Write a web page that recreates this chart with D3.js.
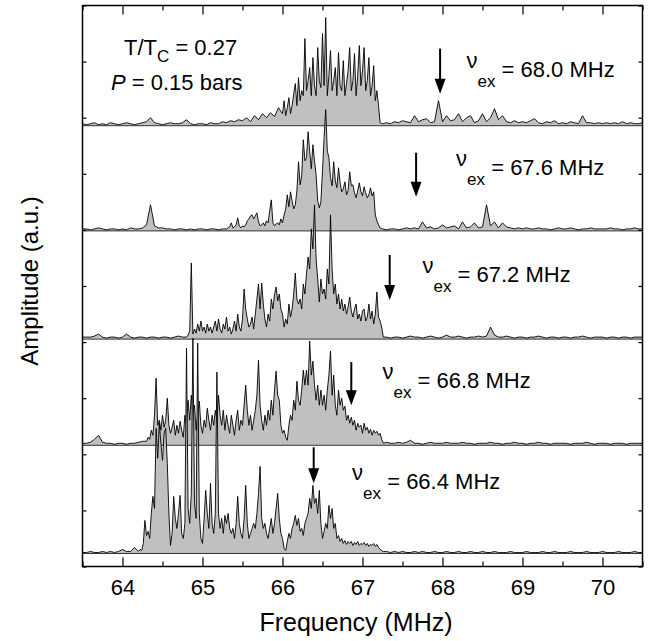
<!DOCTYPE html>
<html lang="en">
<head>
  <meta charset="UTF-8">
  <title>NMR spectra at several excitation frequencies</title>
  <script src="https://d3js.org/d3.v7.min.js"></script>
  <style>
    body {
      margin: 0;
      padding: 0;
      background: #fff;
      font-family: "Liberation Sans", Arial, sans-serif;
    }
    svg text {
      font-family: "Liberation Sans", Arial, sans-serif;
      fill: #000;
    }
  </style>
</head>
<body>
  <div id="chart"></div>

  <script>
    // ---- data ----
    const freqMin = 63.5, freqMax = 70.5;
    const xTicks = [64, 65, 66, 67, 68, 69, 70];
    const exFreqs = [68.0, 67.6, 67.2, 66.8, 66.4];          // excitation frequency labels
    const arrowFreqs = [67.97, 67.67, 67.34, 66.86, 66.39];  // where the arrows sit
    const offsets = [440, 335, 227, 121, 13];                // baseline of each trace (a.u.)
    const bandStarts = [66.00, 65.30, 64.80, 64.30, 64.20];  // start of the dense part
    const noiseStep = 0.05, bandStep = 0.02;

    // baseline noise, 63.5 -> 70.5 every 0.05 MHz (zeros lie under the dense band)
    const noise1 = [
      2,1,2,3,1,2,1,3,2,1, 2,3,2,1,2,3,4,8,3,2, 1,2,3,2,2,3,6,2,1,2,
      2,1,3,2,2,4,3,5,4,6, 5,8,4,10,6,12,8,13,9,18, 0,0,0,0,0,0,0,0,0,0,
      0,0,0,0,0,0,0,0,0,0, 0,0,0,0,0,2,3,2,4,3, 5,4,3,10,4,6,7,3,4,25,
      4,10,5,6,12,4,8,10,3,5, 12,4,8,17,6,10,4,3,5,3, 4,3,5,7,3,2,4,3,5,2,
      3,2,4,3,2,10,3,3,2,3, 2,3,2,3,2,4,2,3,2,2, 3
    ];
    const noise2 = [
      2,2,1,2,3,2,1,2,2,1, 2,1,3,2,2,3,6,26,5,3, 3,2,2,1,2,2,1,2,1,2,
      2,1,2,2,1,2,0,0,0,0, 0,0,0,0,0,0,0,0,0,0, 0,0,0,0,0,0,0,0,0,0,
      0,0,0,0,0,0,0,0,0,0, 0,0,0,0,0,2,1,2,2,1, 2,3,2,3,2,9,3,4,2,3,
      6,3,4,5,2,9,3,4,8,3, 4,26,5,9,3,8,4,3,2,3, 2,3,2,2,3,2,2,1,2,3,
      2,2,3,2,1,2,2,3,2,2, 2,2,3,2,2,1,2,2,3,2, 2
    ];
    const noise3 = [
      2,2,2,3,5,2,1,2,2,1, 2,5,2,1,2,2,1,2,2,1, 2,2,1,2,3,2,0,0,0,0,
      0,0,0,0,0,0,0,0,0,0, 0,0,0,0,0,0,0,0,0,0, 0,0,0,0,0,0,0,0,0,0,
      0,0,0,0,0,0,0,0,0,0, 0,0,0,0,0,0,2,1,2,2, 1,2,3,2,2,1,2,3,2,1,
      2,4,2,2,3,2,1,2,2,3, 2,3,12,4,2,2,3,2,1,2, 2,1,2,2,3,2,1,2,2,1,
      2,2,1,2,2,3,2,1,2,2, 2,1,2,2,1,2,2,1,2,2, 2
    ];
    const noise4 = [
      2,2,3,6,10,3,2,2,1,2, 2,1,2,2,3,4,0,0,0,0, 0,0,0,0,0,0,0,0,0,0,
      0,0,0,0,0,0,0,0,0,0, 0,0,0,0,0,0,0,0,0,0, 0,0,0,0,0,0,0,0,0,0,
      0,0,0,0,0,0,0,0,0,0, 0,0,0,0,0,0,3,2,2,3, 2,3,5,2,2,1,2,3,2,2,
      2,3,2,2,2,3,2,2,1,2, 2,2,3,2,2,1,2,2,3,2, 2,1,2,2,3,2,2,1,2,2,
      2,2,1,2,2,2,3,2,1,2, 2,2,1,2,2,2,1,2,2,2, 2
    ];
    const noise5 = [
      1,1,2,1,1,2,1,2,1,2, 4,2,2,6,0,0,0,0,0,0, 0,0,0,0,0,0,0,0,0,0,
      0,0,0,0,0,0,0,0,0,0, 0,0,0,0,0,0,0,0,0,0, 0,0,0,0,0,0,0,0,0,0,
      0,0,0,0,0,0,0,0,0,0, 0,0,0,0,0,0,2,1,2,1, 2,1,1,2,1,2,1,1,2,1,
      1,2,1,1,2,1,1,2,1,1, 2,1,1,2,1,1,1,2,1,1, 1,2,1,1,1,2,1,1,2,1,
      1,1,2,1,1,1,2,1,1,1, 2,1,1,1,2,1,1,1,2,1, 1
    ];

    // dense part of each trace, every 0.02 MHz from bandStarts[k]
    const band1 = [
      12,25,10,18,28,12,20,32,42,20,   // 66.00
      48,25,35,30,87,35,45,58,30,68,   // 66.20
      40,30,78,45,38,92,40,108,30,50,  // 66.40
      75,35,45,58,30,73,40,35,65,30,   // 66.60
      42,55,78,35,45,72,30,50,80,40,   // 66.80
      55,78,35,45,68,30,40,60,25,35,   // 67.00
      20,3                             // 67.20
    ];
    const band2 = [
      2,3,4,8,3,4,6,13,5,3,            // 65.30
      5,4,6,10,12,15,16,12,15,18,      // 65.50
      9,5,6,8,5,10,8,20,31,8,          // 65.70
      5,7,8,6,12,8,16,22,36,24,        // 65.90
      39,30,22,26,40,69,46,55,91,70,   // 66.10
      73,99,79,62,86,70,56,30,23,29,   // 66.30
      60,93,121,80,73,53,45,69,50,43,  // 66.50
      63,48,39,42,49,36,40,59,45,46,   // 66.70
      38,33,40,48,39,35,44,38,33,36,   // 66.90
      43,35,39,16,10,6,3               // 67.10
    ];
    const band3 = [
      2,4,8,76,5,10,6,15,8,18,         // 64.80
      8,12,6,15,8,12,6,12,18,8,        // 65.00
      20,10,6,15,10,22,8,12,5,10,      // 65.20
      18,8,25,12,8,20,50,30,20,12,     // 65.40
      15,22,10,25,40,55,30,56,35,20,   // 65.60
      12,25,18,40,30,44,52,38,45,30,   // 65.80
      25,12,20,15,35,22,30,45,66,40,   // 66.00
      35,40,30,55,45,65,82,70,110,90,  // 66.20
      134,80,60,37,60,45,50,40,70,55,  // 66.40
      124,70,45,55,35,45,30,40,28,35,  // 66.60
      25,32,42,28,22,30,35,20,25,18,   // 66.80
      28,30,18,22,35,20,28,15,25,47,   // 67.00
      22,18,12,2                       // 67.20
    ];
    const band4 = [
      4,8,6,15,10,30,67,20,25,15,      // 64.30
      30,18,25,47,20,12,18,25,10,20,   // 64.50
      12,24,15,8,30,20,45,25,50,30,    // 64.70
      40,15,30,44,20,12,25,18,37,25,   // 64.90
      15,30,20,35,25,50,30,20,35,15,   // 65.10
      30,20,12,30,20,10,25,35,15,25,   // 65.30
      20,40,60,35,20,30,15,25,35,50,   // 65.50
      85,40,25,15,30,20,35,25,45,30,   // 65.70
      55,74,50,45,20,12,15,8,5,20,     // 65.90
      30,25,45,35,64,45,40,55,75,60,   // 66.10
      75,60,104,70,84,60,45,60,40,55,  // 66.30
      40,50,35,55,70,94,50,70,40,30,   // 66.50
      55,40,47,35,39,25,30,22,28,20,   // 66.70
      25,15,22,18,20,12,22,15,18,12,   // 66.90
      16,10,15,12,14,10,12,6,2         // 67.10
    ];
    const band5 = [
      2,4,3,10,33,18,22,15,40,57,          // 64.20
      45,125,95,130,110,93,120,125,90,40,  // 64.40
      8,20,57,35,25,40,58,20,15,30,        // 64.60
      205,45,30,60,215,50,35,210,40,15,    // 64.80
      10,35,63,40,25,70,30,20,40,181,      // 65.00
      40,25,35,20,38,30,40,25,20,25,       // 65.20
      15,30,57,30,20,15,35,68,30,15,       // 65.40
      20,25,30,25,40,60,87,35,25,30,       // 65.60
      20,15,25,35,20,30,45,60,35,20,       // 65.80
      15,5,3,12,20,15,25,30,38,28,         // 66.00
      35,22,25,18,30,35,40,55,45,68,       // 66.20
      50,55,40,63,30,15,22,30,25,48,       // 66.40
      35,45,25,30,15,18,12,15,10,13,       // 66.60
      9,12,10,12,8,11,9,12,8,10,           // 66.80
      9,11,8,10,7,9,8,10,7,9,              // 67.00
      6,4,3,2                              // 67.20
    ];

    const noises = [noise1, noise2, noise3, noise4, noise5];
    const bands = [band1, band2, band3, band4, band5];

    // ---- layout ----
    const W = 654, H = 641;
    const plot = { left: 82.5, right: 642.5, top: 5.5, bottom: 566.5 };
    const arrowTip = [32, 34, 39, 40, 70];     // a.u. above each baseline
    const arrowTop = [77, 78, 84, 83, 106];
    const labelF = [68.30, 68.17, 67.75, 67.25, 66.87];
    const labelLift = [49, 56, 57, 57, 64];

    const svg = d3.select("#chart")
      .append("svg")
      .attr("width", W)
      .attr("height", H);

    const x = d3.scaleLinear().domain([freqMin, freqMax]).range([plot.left, plot.right]);
    const y = d3.scaleLinear().domain([0, 560]).range([plot.bottom, plot.top]);

    function buildTrace(noise, band, bandStart) {
      const bandEnd = bandStart + (band.length - 1) * bandStep;
      const pts = [];
      noise.forEach((a, i) => {
        const f = freqMin + i * noiseStep;
        if (f < bandStart - 1e-6 || f > bandEnd + 1e-6) pts.push({ f: f, a: a });
      });
      band.forEach((a, i) => pts.push({ f: bandStart + i * bandStep, a: a }));
      return pts.sort((p, q) => p.f - q.f);
    }

    const traces = noises.map((n, k) => buildTrace(n, bands[k], bandStarts[k]));

    const g = svg.append("g");

    traces.forEach((pts, k) => {
      const base = offsets[k];
      const area = d3.area()
        .x(d => x(d.f))
        .y0(y(base))
        .y1(d => y(base + d.a));
      const line = d3.line()
        .x(d => x(d.f))
        .y(d => y(base + d.a));

      g.append("path")
        .datum(pts)
        .attr("d", area)
        .attr("fill", "#c0c0c0");

      g.append("line")
        .attr("x1", x(freqMin)).attr("x2", x(freqMax))
        .attr("y1", y(base)).attr("y2", y(base))
        .attr("stroke", "#333")
        .attr("stroke-width", 1);

      g.append("path")
        .datum(pts)
        .attr("d", line)
        .attr("fill", "none")
        .attr("stroke", "#000")
        .attr("stroke-width", 0.9)
        .attr("stroke-linejoin", "round");
    });

    // arrows at the excitation frequency
    arrowFreqs.forEach((f, k) => {
      const base = offsets[k];
      const ax = x(f);
      const tipY = y(base + arrowTip[k]);
      const topY = y(base + arrowTop[k]);
      g.append("line")
        .attr("x1", ax).attr("x2", ax)
        .attr("y1", topY).attr("y2", tipY - 10)
        .attr("stroke", "#000")
        .attr("stroke-width", 2);
      g.append("path")
        .attr("d", `M${ax - 5.5},${tipY - 15} L${ax + 5.5},${tipY - 15} L${ax},${tipY} Z`)
        .attr("fill", "#000");
    });

    // ν_ex labels
    exFreqs.forEach((v, k) => {
      const t = g.append("text")
        .attr("x", x(labelF[k]))
        .attr("y", y(offsets[k] + labelLift[k]))
        .attr("font-size", 22);
      t.append("tspan").attr("dy", -9).text("\u03BD");
      t.append("tspan").attr("dy", 19).attr("font-size", 17).text("ex");
      t.append("tspan").attr("dy", -10).text(` = ${v.toFixed(1)} MHz`);
    });

    // condition labels
    const t1 = g.append("text").attr("x", 124).attr("y", 55).attr("font-size", 22);
    t1.append("tspan").text("T/T");
    t1.append("tspan").attr("dy", 7).attr("font-size", 17).text("C");
    t1.append("tspan").attr("dy", -7).text(" = 0.27");

    const t2 = g.append("text").attr("x", 111).attr("y", 90).attr("font-size", 22);
    t2.append("tspan").attr("font-style", "italic").text("P");
    t2.append("tspan").text(" = 0.15 bars");

    // ---- axes ----
    const minorTicks = d3.range(63.5, 70.51, 0.5).filter(v => Math.abs(v - Math.round(v)) > 0.01);
    const yTicks = d3.range(0, 561, 56);

    const bottom = svg.append("g")
      .attr("transform", `translate(0,${plot.bottom})`)
      .call(d3.axisBottom(x).tickValues(xTicks).tickSize(-9).tickSizeOuter(0).tickPadding(13).tickFormat(d3.format("d")));
    bottom.selectAll("text").attr("font-size", 22).attr("font-family", "Liberation Sans, Arial, sans-serif");
    svg.append("g")
      .attr("transform", `translate(0,${plot.bottom})`)
      .call(d3.axisBottom(x).tickValues(minorTicks).tickSize(-5).tickSizeOuter(0).tickFormat(""));

    svg.append("g")
      .attr("transform", `translate(0,${plot.top})`)
      .call(d3.axisTop(x).tickValues(xTicks).tickSize(-9).tickSizeOuter(0).tickFormat(""));
    svg.append("g")
      .attr("transform", `translate(0,${plot.top})`)
      .call(d3.axisTop(x).tickValues(minorTicks).tickSize(-5).tickSizeOuter(0).tickFormat(""));

    svg.append("g")
      .attr("transform", `translate(${plot.left},0)`)
      .call(d3.axisLeft(y).tickValues(yTicks).tickSize(-4).tickSizeOuter(0).tickFormat(""));
    svg.append("g")
      .attr("transform", `translate(${plot.right},0)`)
      .call(d3.axisRight(y).tickValues(yTicks).tickSize(-4).tickSizeOuter(0).tickFormat(""));

    svg.selectAll(".domain").remove();
    svg.selectAll(".tick line").attr("stroke", "#000").attr("stroke-width", 1.2);

    svg.append("rect")
      .attr("x", plot.left).attr("y", plot.top)
      .attr("width", plot.right - plot.left)
      .attr("height", plot.bottom - plot.top)
      .attr("fill", "none")
      .attr("stroke", "#000")
      .attr("stroke-width", 1.5);

    // axis titles
    svg.append("text")
      .attr("x", 356)
      .attr("y", 631)
      .attr("text-anchor", "middle")
      .attr("font-size", 25)
      .text("Frequency (MHz)");

    svg.append("text")
      .attr("transform", `translate(38,281) rotate(-90)`)
      .attr("text-anchor", "middle")
      .attr("font-size", 24)
      .text("Amplitude (a.u.)");
  </script>
</body>
</html>
